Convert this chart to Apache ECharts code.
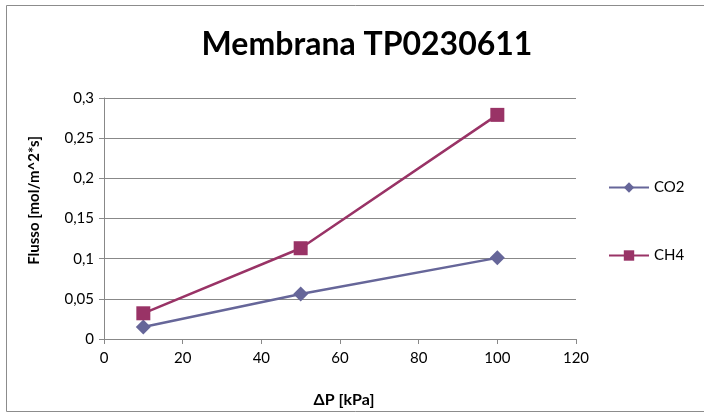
<!DOCTYPE html>
<html><head><meta charset="utf-8">
<script src="https://cdn.jsdelivr.net/npm/echarts@6/dist/echarts.min.js"></script>
<style>html,body{margin:0;padding:0;background:#fff}#c{width:704px;height:416px}</style>
</head><body><div id="c"></div>
<script>
const xValues = [10, 50, 100];
const co2Values = [0.015, 0.056, 0.101];
const ch4Values = [0.032, 0.113, 0.279];
const seriesNames = ['CO2', 'CH4'];
const titleText = 'Membrana TP0230611';
const xAxisName = 'ΔP [kPa]';
const yAxisName = 'Flusso [mol/m^2*s]';

const font = 'Lato, "Open Sans", sans-serif';
const chart = echarts.init(document.getElementById('c'), null, {renderer: 'canvas'});
chart.setOption({
  animation: false,
  backgroundColor: '#fff',
  graphic: [{type: 'rect', shape: {x: 6.5, y: 5.5, width: 710, height: 406}, style: {fill: 'none', stroke: '#8c8c8c', lineWidth: 1}, silent: true}],
  title: {text: titleText, left: 362, top: 24, textAlign: 'center',
    textStyle: {fontFamily: font, fontWeight: 'bold', fontSize: 32, color: '#000'}},
  grid: {left: 104, right: 128, top: 98, bottom: 77},
  legend: {orient: 'vertical', left: 603, top: 175, itemGap: 53, itemWidth: 40, itemHeight: 13,
    textStyle: {fontFamily: font, fontSize: 15, color: '#000'}, data: seriesNames},
  xAxis: {type: 'value', min: 0, max: 120, interval: 20,
    name: xAxisName, nameLocation: 'middle', nameGap: 53,
    nameTextStyle: {fontFamily: font, fontWeight: 'bold', fontSize: 16, color: '#000', padding: [0, 0, 0, 8]},
    axisLine: {show: true, lineStyle: {color: '#888', width: 1}},
    axisTick: {show: true, inside: false, length: 5, lineStyle: {color: '#888'}},
    axisLabel: {fontFamily: font, fontSize: 15, color: '#000', margin: 12},
    splitLine: {show: false}},
  yAxis: {type: 'value', min: 0, max: 0.3, interval: 0.05,
    name: yAxisName, nameLocation: 'middle', nameGap: 62, nameRotate: 90,
    nameTextStyle: {fontFamily: font, fontWeight: 'bold', fontSize: 15, color: '#000', padding: [0, 0, 0, 36]},
    axisLine: {show: true, lineStyle: {color: '#888', width: 1}},
    axisTick: {show: true, inside: false, length: 5, lineStyle: {color: '#888'}},
    axisLabel: {fontFamily: font, fontSize: 15, color: '#000', margin: 10,
      formatter: v => String(+v.toFixed(2)).replace('.', ',')},
    splitLine: {show: true, lineStyle: {color: '#888', width: 1}}},
  series: [
    {name: seriesNames[0], type: 'line', data: xValues.map((x, i) => [x, co2Values[i]]),
      symbol: 'diamond', symbolSize: 15, color: '#666699', lineStyle: {width: 2.5, color: '#666699'},
      itemStyle: {color: '#666699'}},
    {name: seriesNames[1], type: 'line', data: xValues.map((x, i) => [x, ch4Values[i]]),
      symbol: 'rect', symbolSize: 14, color: '#993366', lineStyle: {width: 2.5, color: '#993366'},
      itemStyle: {color: '#993366'}}
  ]
});
</script></body></html>
